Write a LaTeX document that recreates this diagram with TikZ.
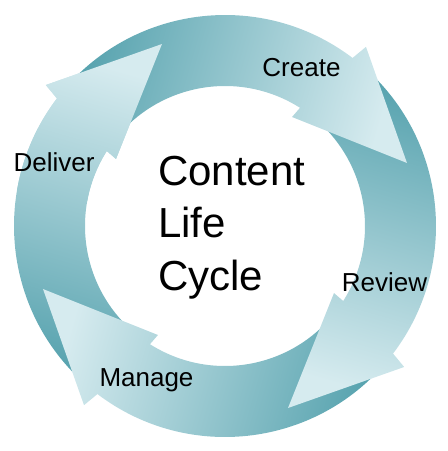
\documentclass[tikz,border=0pt]{standalone}
\usepackage{fontspec}
\setmainfont{Liberation Sans}
\definecolor{cycdark}{RGB}{84,161,173}
\definecolor{cyclight}{RGB}{214,235,239}
\tikzset{
  cycarrow/.style={top color=cycdark, bottom color=cyclight, shading angle=#1},
  steplabel/.style={font=\fontsize{26}{30}\selectfont, anchor=base, inner sep=0pt},
  titleline/.style={font=\fontsize{42}{50}\selectfont, anchor=base west, inner sep=0pt}
}
\begin{document}
\begin{tikzpicture}[x=1pt,y=1pt]
\useasboundingbox (-225,-225) rectangle (223,226);

% four arrows, each head lies over the start of the next one
\shade[cycarrow=-196] (-128:211) arc[start angle=-128, end angle=-217.2, radius=211] -- (-218.2:228) coordinate (d1) -- (-250.9:192.6) coordinate (d2) -- (-211.6:128) coordinate (d3) -- (-212.4:140) arc[start angle=-212.4, end angle=-128, radius=140] -- cycle;

\shade[cycarrow=-106] (-38:211) arc[start angle=-38, end angle=-127.2, radius=211] -- (-128.2:228) coordinate (m1) -- (-160.9:192.6) coordinate (m2) -- (-121.6:128) coordinate (m3) -- (-122.4:140) arc[start angle=-122.4, end angle=-38, radius=140] -- cycle;

\shade[cycarrow=-16] (52:211) arc[start angle=52, end angle=-37.2, radius=211] -- (-38.2:228) coordinate (r1) -- (-70.9:192.6) coordinate (r2) -- (-31.6:128) coordinate (r3) -- (-32.4:140) arc[start angle=-32.4, end angle=52, radius=140] -- cycle;

\shade[cycarrow=74] (142:211) arc[start angle=142, end angle=52.8, radius=211] -- (51.8:228) coordinate (c1) -- (19.1:192.6) coordinate (c2) -- (58.4:128) coordinate (c3) -- (57.6:140) arc[start angle=57.6, end angle=142, radius=140] -- cycle;

% head of the last arrow over the start of the first
\begin{scope}
\clip (0,0) -- (95:240) arc[start angle=95, end angle=170, radius=240] -- cycle;
\shade[cycarrow=-196] (-128:211) arc[start angle=-128, end angle=-217.2, radius=211] -- (-218.2:228) -- (-250.9:192.6) -- (-211.6:128) -- (-212.4:140) arc[start angle=-212.4, end angle=-128, radius=140] -- cycle;
\end{scope}

\node[steplabel] (create) at (76.5,150) {Create};
\node[steplabel] (review) at (159.5,-65) {Review};
\node[steplabel] (manage) at (-78.5,-160) {Manage};
\node[steplabel] (deliver) at (-171,55) {Deliver};

\node[titleline] (content) at (-67,41) {Content};
\node[titleline] (life) at (-67,-11) {Life};
\node[titleline] (cycle) at (-67,-64) {Cycle};

\end{tikzpicture}
\end{document}
